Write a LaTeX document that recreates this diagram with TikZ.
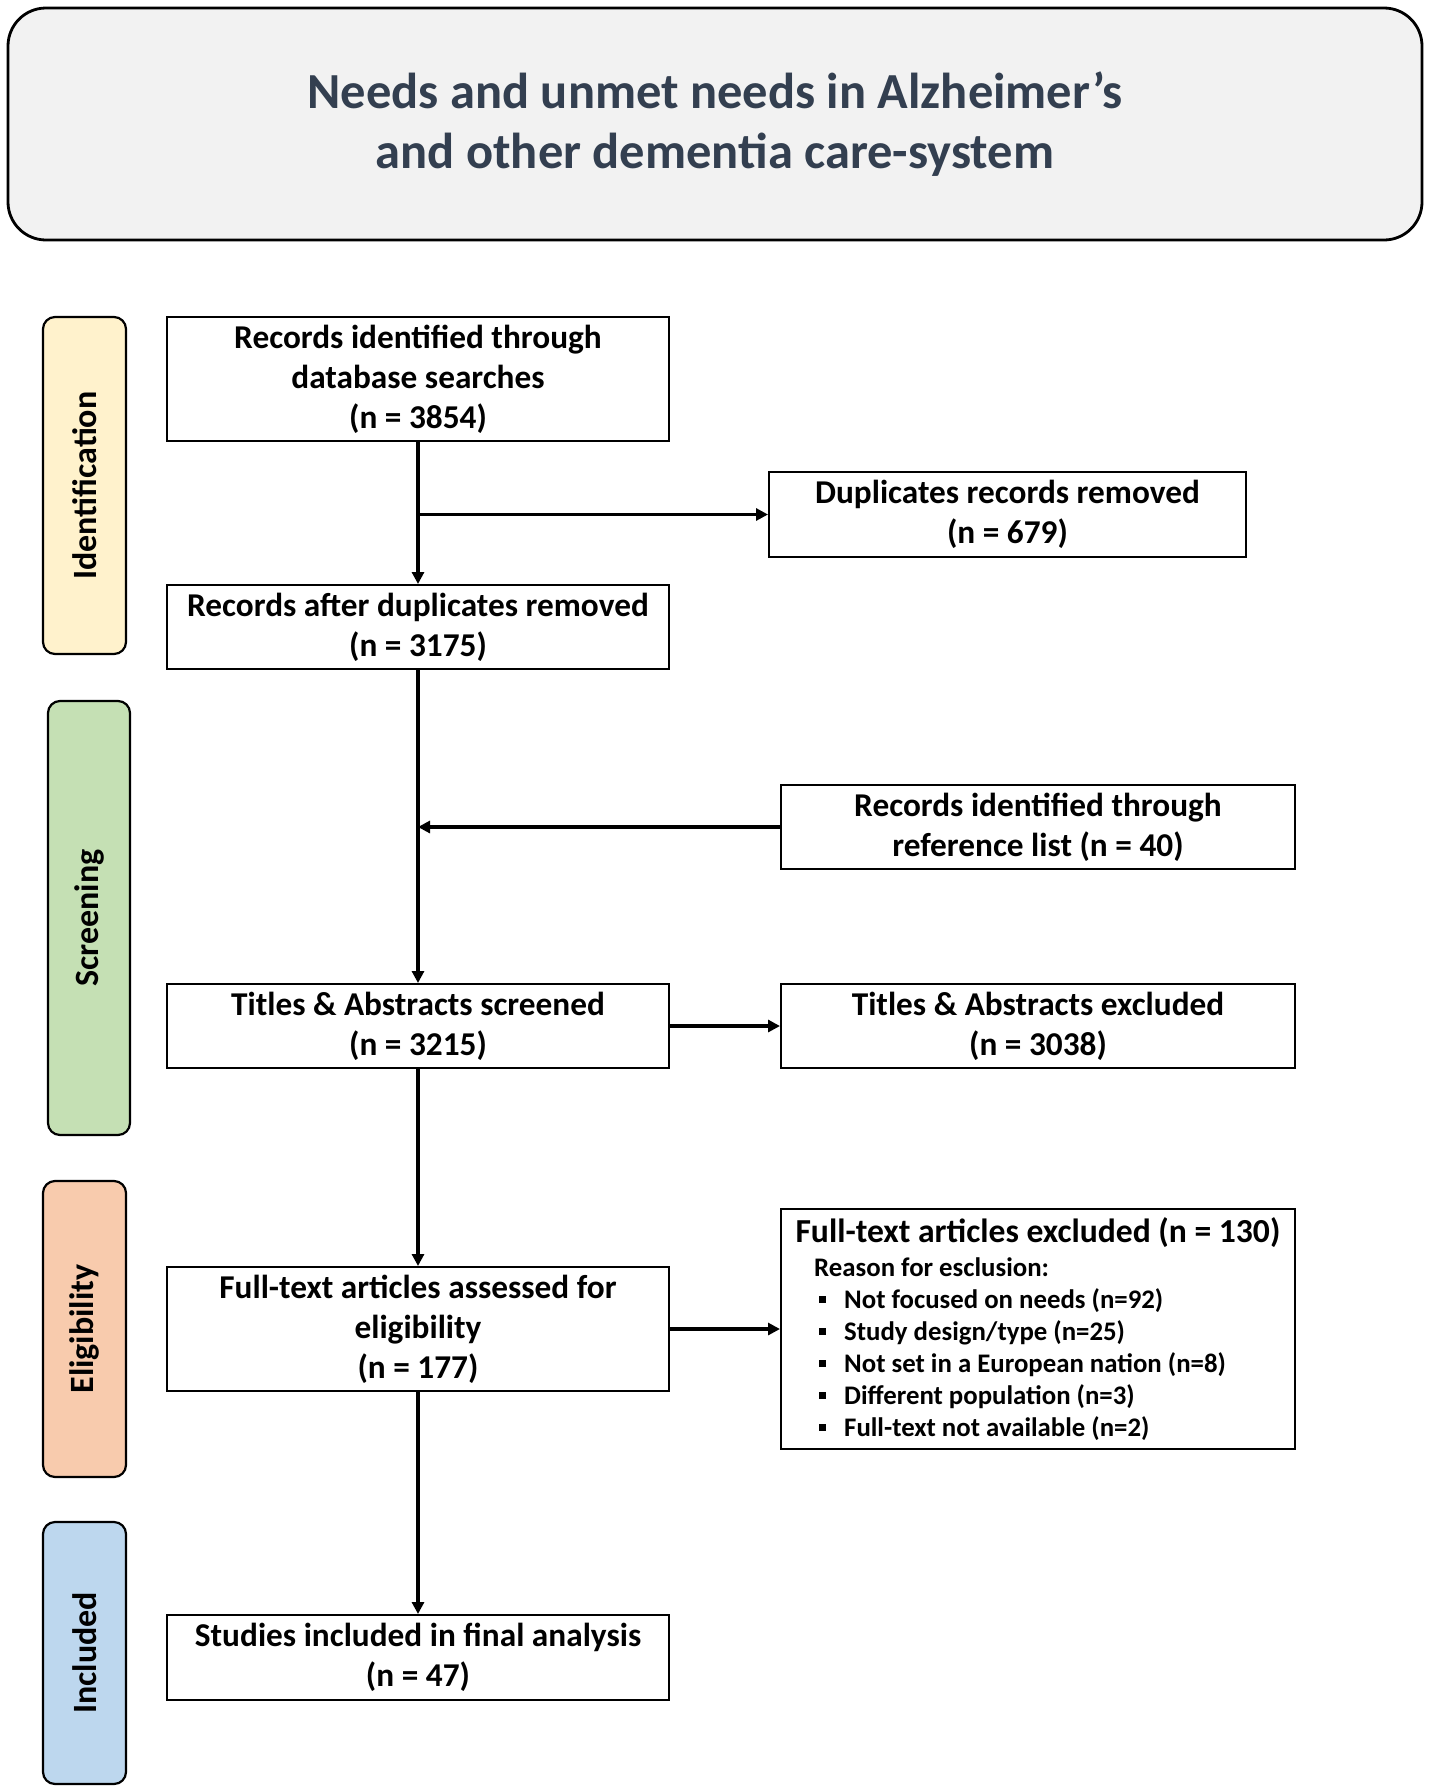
\documentclass[tikz,border=0pt]{standalone}
\usepackage{fontspec}
\setmainfont{Carlito}
\usetikzlibrary{arrows.meta}
\definecolor{titlefg}{HTML}{333F50}
\definecolor{titlebg}{HTML}{F2F2F2}
\definecolor{identbg}{HTML}{FFF2CC}
\definecolor{screenbg}{HTML}{C5E0B4}
\definecolor{eligbg}{HTML}{F8CBAD}
\definecolor{inclbg}{HTML}{BDD7EE}
\newcommand{\sqbullet}{\raisebox{5pt}{\rule{7pt}{7pt}}}
\begin{document}
\begin{tikzpicture}[x=1pt,y=-1pt,
  stagebox/.style={draw=black, line width=2pt, fill=white, align=center,
    inner sep=0pt, font=\fontsize{33.3}{40}\selectfont\bfseries},
  phasebox/.style={draw=black, line width=2.2pt, rounded corners=12pt, rotate=90,
    minimum height=83pt, inner sep=0pt, font=\fontsize{34}{38}\selectfont\bfseries},
  arr/.style={line width=3.4pt, -{Triangle[length=12pt,width=12pt]}},
  itemtxt/.style={anchor=base west, inner sep=0pt, font=\fontsize{26.8}{32}\selectfont\bfseries}
]
\useasboundingbox (0,0) rectangle (1429,1791);

% title
\node[draw=black, line width=2.8pt, fill=titlebg, rounded corners=38pt,
  minimum width=1414pt, minimum height=232pt, inner sep=0pt, align=center,
  text=titlefg, font=\fontsize{50.5}{60}\selectfont\bfseries] (title) at (715,124)
  {Needs and unmet needs in Alzheimer’s\\and other dementia care-system};

% phases
\node[phasebox, fill=identbg, minimum width=337pt] (ident) at (84.5,485.5) {Identification};
\node[phasebox, fill=screenbg, minimum width=434pt, minimum height=82pt] (screen) at (89,918) {Screening};
\node[phasebox, fill=eligbg, minimum width=296pt] (elig) at (84.5,1329) {Eligibility};
\node[phasebox, fill=inclbg, minimum width=262pt] (incl) at (84.5,1653) {Included};

% main column
\node[stagebox, minimum width=502pt, minimum height=124pt] (b1) at (418,379)
  {Records identified through\\database searches\\(n = 3854)};
\node[stagebox, minimum width=502pt, minimum height=84pt] (b2) at (418,627)
  {Records after duplicates removed\\(n = 3175)};
\node[stagebox, minimum width=502pt, minimum height=84pt] (b3) at (418,1026)
  {Titles \& Abstracts screened\\(n = 3215)};
\node[stagebox, minimum width=502pt, minimum height=124pt] (b4) at (418,1329)
  {Full-text articles assessed for\\eligibility\\(n = 177)};
\node[stagebox, minimum width=502pt, minimum height=85pt] (b5) at (418,1657.5)
  {Studies included in final analysis\\(n = 47)};

% right column
\node[stagebox, minimum width=477pt, minimum height=85pt] (dup) at (1007.5,514.5)
  {Duplicates records removed\\(n = 679)};
\node[stagebox, minimum width=514pt, minimum height=84pt] (ref) at (1038,827)
  {Records identified through\\reference list (n = 40)};
\node[stagebox, minimum width=514pt, minimum height=84pt] (tae) at (1038,1026)
  {Titles \& Abstracts excluded\\(n = 3038)};
\node[stagebox, minimum width=514pt, minimum height=240pt] (fte) at (1038,1329) {};
\node[anchor=base, inner sep=0pt, font=\fontsize{33.6}{36}\selectfont\bfseries] (ftetitle) at (1038,1242)
  {Full-text articles excluded (n = 130)};
\node[itemtxt] (reason) at (814,1276) {Reason for esclusion:};
\node[itemtxt] (r1) at (819,1308) {\sqbullet\hspace{18pt}Not focused on needs (n=92)};
\node[itemtxt] (r2) at (819,1340) {\sqbullet\hspace{18pt}Study design/type (n=25)};
\node[itemtxt] (r3) at (819,1372) {\sqbullet\hspace{18pt}Not set in a European nation (n=8)};
\node[itemtxt] (r4) at (819,1404) {\sqbullet\hspace{18pt}Different population (n=3)};
\node[itemtxt] (r5) at (819,1436) {\sqbullet\hspace{18pt}Full-text not available (n=2)};

% connectors
\coordinate (j1) at (b1.south |- dup.west);
\coordinate (j2) at (b2.south |- ref.west);
\draw[arr] (b1.south) -- (b2.north);
\draw[arr] (j1) -- (dup.west);
\draw[arr] (b2.south) -- (b3.north);
\draw[arr] (ref.west) -- (j2);
\draw[arr] (b3.east) -- (tae.west);
\draw[arr] (b3.south) -- (b4.north);
\draw[arr] (b4.east) -- (fte.west);
\draw[arr] (b4.south) -- (b5.north);
\end{tikzpicture}
\end{document}
